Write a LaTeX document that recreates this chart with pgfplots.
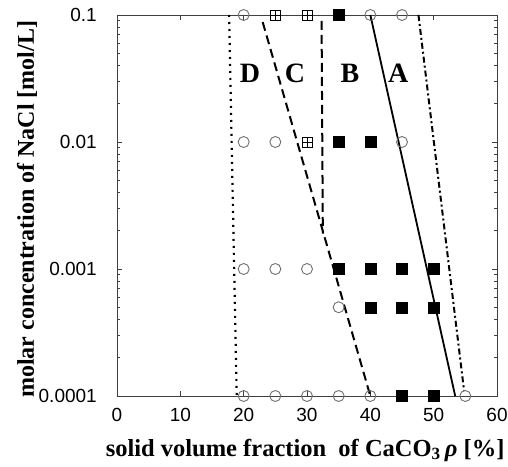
\documentclass[border=0pt]{standalone}
\usepackage{pgfplots}
\pgfplotsset{compat=1.18}
\usepackage{fontspec}
\setmainfont{Liberation Serif}
\newfontfamily\tickfont{Liberation Sans}
\definecolor{circgray}{HTML}{707070}
\definecolor{axgray}{HTML}{404040}

\begin{document}
\begin{tikzpicture}
\useasboundingbox (-117pt,-70pt) rectangle (391pt,396pt);
\begin{axis}[
  at={(0pt,0pt)}, anchor=south west,
  scale only axis, width=380pt, height=381pt,
  xmin=0, xmax=60,
  ymode=log, ymin=1e-4, ymax=0.1,
  xtick={0,10,...,60},
  ytick={1e-4,1e-3,1e-2,1e-1},
  yticklabels={0.0001,0.001,0.01,0.1},
  tick align=inside,
  major tick length=5pt, minor tick length=3pt,
  axis line style={draw=axgray, line width=0.9pt},
  tick style={draw=axgray, line width=0.7pt},
  clip=false,
  /pgf/number format/assume math mode=true,
  ticklabel style={font=\tickfont\fontsize{19}{19}\selectfont, inner sep=0pt},
  xticklabel style={anchor=north, yshift=-12pt},
  yticklabel style={anchor=east, xshift=-20pt},
  xlabel={solid volume fraction\ \ of CaCO\textsubscript{3}\,\textit{ρ} [\%]},
  xlabel style={font=\bfseries\fontsize{24.5}{24.5}\selectfont,
                at={(axis description cs:0.495,0)}, anchor=center, yshift=-54pt},
  ylabel={molar concentration of NaCl [mol/L]},
  ylabel style={font=\bfseries\fontsize{24}{24}\selectfont,
                at={(axis description cs:-0.237,0.49)}, anchor=center},
]
% boundary lines
\addplot[black, line width=2.2pt, dash pattern=on 2pt off 5pt] coordinates {(17.7,0.1) (18.9,0.0001)};
\addplot[black, line width=2pt, dash pattern=on 9pt off 5pt] coordinates {(23.0,0.088) (40.0,0.0001)};
\addplot[black, line width=2pt, dash pattern=on 9pt off 5pt] coordinates {(32.3,0.09) (32.5,0.0019)};
\addplot[black, line width=1.8pt] coordinates {(40.0,0.1) (53.4,0.0001)};
\addplot[black, line width=2pt, dash pattern=on 6pt off 3pt on 2pt off 3pt] coordinates {(47.6,0.1) (54.8,0.00011)};

% open circles
\addplot[only marks, mark=o, mark size=5.5pt, mark options={draw=circgray, line width=0.9pt}] coordinates {
  (20,0.1) (40,0.1) (45,0.1)
  (20,0.01) (25,0.01) (45,0.01)
  (20,0.001) (25,0.001) (30,0.001)
  (35,0.0005)
  (20,0.0001) (25,0.0001) (30,0.0001) (35,0.0001) (40,0.0001) (55,0.0001)
};
% crossed squares
\addplot[only marks, mark=square, mark size=5pt, mark options={draw=black, line width=0.8pt}] coordinates {
  (25,0.1) (30,0.1) (30,0.01)
};
\addplot[only marks, mark=+, mark size=5pt, mark options={draw=black, line width=0.8pt}] coordinates {
  (25,0.1) (30,0.1) (30,0.01)
};
% filled squares
\addplot[only marks, mark=square*, mark size=5.5pt, mark options={draw=black, fill=black}] coordinates {
  (35,0.1)
  (35,0.01) (40,0.01)
  (35,0.001) (40,0.001) (45,0.001) (50,0.001)
  (40,0.0005) (45,0.0005) (50,0.0005)
  (45,0.0001) (50,0.0001)
};

\node[font=\bfseries\fontsize{28}{28}\selectfont] at (axis cs:21.0,0.0349) {D};
\node[font=\bfseries\fontsize{28}{28}\selectfont] at (axis cs:28.1,0.0349) {C};
\node[font=\bfseries\fontsize{28}{28}\selectfont] at (axis cs:36.8,0.0349) {B};
\node[font=\bfseries\fontsize{28}{28}\selectfont] at (axis cs:44.4,0.0349) {A};
\end{axis}
\end{tikzpicture}
\end{document}
